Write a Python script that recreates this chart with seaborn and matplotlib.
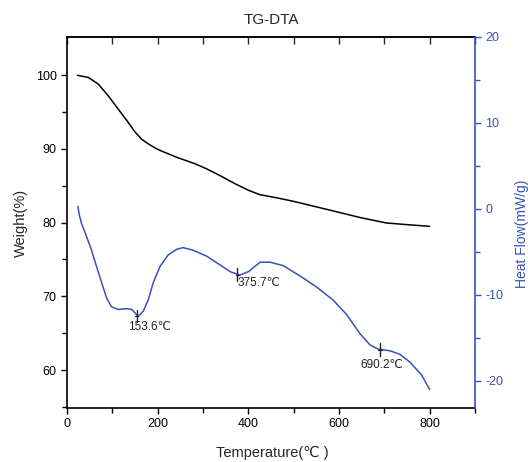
import numpy as np
import pandas as pd
import seaborn as sns
import matplotlib.pyplot as plt
from matplotlib.ticker import MultipleLocator, FixedLocator

# TG curve (weight %)
tg_temp = [23, 47, 69, 91, 113, 135, 150, 165, 179, 195, 209, 245, 282, 308,
           340, 370, 400, 425, 460, 499, 573, 646, 705, 756, 800]
tg_weight = [100.0, 99.7, 98.8, 97.2, 95.4, 93.6, 92.3, 91.3, 90.7, 90.1,
             89.7, 88.8, 88.0, 87.3, 86.3, 85.3, 84.4, 83.8, 83.4, 82.9,
             81.8, 80.7, 79.95, 79.7, 79.5]

# DTA curve (heat flow mW/g)
dta_temp = [24, 26.5, 32, 43, 54, 65, 76.5, 87.5, 98.5, 113, 131, 143, 157,
            168, 179, 190, 205, 223, 242, 256, 278, 308, 337, 360, 381, 400,
            426, 448, 477, 514, 551, 587, 617, 646, 668, 686, 712, 734, 756,
            782, 800]
dta_flow = [0.3, -0.6, -1.7, -3.2, -4.8, -6.7, -8.6, -10.4, -11.4, -11.7,
            -11.6, -11.7, -12.5, -11.9, -10.6, -8.6, -6.7, -5.35, -4.7, -4.5,
            -4.8, -5.5, -6.5, -7.3, -7.7, -7.3, -6.2, -6.2, -6.6, -7.8, -9.1,
            -10.6, -12.3, -14.5, -15.8, -16.3, -16.5, -16.9, -17.8, -19.3,
            -21.0]

peak_temp = [153.6, 375.7, 690.2]
peak_flow = [-12.5, -7.7, -16.4]
peak_labels = ["153.6℃", "375.7℃", "690.2℃"]
label_temp = [134, 377, 648]
label_flow = [-13.75, -8.65, -18.2]

blue = "#3553b8"

sns.set_style("ticks")
plt.rcParams["font.family"] = ["Liberation Sans", "DejaVu Sans"]
plt.rcParams["axes.unicode_minus"] = False

fig, ax = plt.subplots(figsize=(5.28, 4.62), dpi=100)
fig.subplots_adjust(left=0.127, right=0.8996, top=0.92, bottom=0.117)
ax2 = ax.twinx()

tg = pd.DataFrame({"T": tg_temp, "W": tg_weight})
dta = pd.DataFrame({"T": dta_temp, "H": dta_flow})
sns.lineplot(data=tg, x="T", y="W", ax=ax, color="black", lw=1.1)
sns.lineplot(data=dta, x="T", y="H", ax=ax2, color=blue, lw=1.1)

ax.set_xlim(0, 900)
ax.set_ylim(54.85, 105.2)
ax2.set_ylim(-23.15, 20)

ax.xaxis.set_major_locator(MultipleLocator(200))
ax.xaxis.set_minor_locator(MultipleLocator(100))
ax.yaxis.set_major_locator(MultipleLocator(10))
ax.yaxis.set_minor_locator(FixedLocator([55, 65, 75, 85, 95]))
ax2.yaxis.set_major_locator(MultipleLocator(10))
ax2.yaxis.set_minor_locator(MultipleLocator(5))

for s in ["left", "bottom", "top"]:
    ax.spines[s].set_linewidth(1.2)
    ax.spines[s].set_color("black")
for s in ["left", "bottom", "top"]:
    ax2.spines[s].set_visible(False)
ax.spines["right"].set_visible(False)
ax2.spines["right"].set_color(blue)
ax2.spines["right"].set_linewidth(1.2)

ax.tick_params(axis="both", which="both", direction="out", width=1,
               labelsize=9, colors="black")
ax.tick_params(axis="both", which="major", length=4)
ax.tick_params(axis="both", which="minor", length=3.5)
ax2.tick_params(axis="y", which="both", direction="out", width=1,
                colors=blue, labelsize=9)
ax2.tick_params(axis="y", which="major", length=4)
ax2.tick_params(axis="y", which="minor", length=3.5)
ax2.xaxis.set_visible(False)

# top axis: inward ticks every 100, no labels
top = ax.secondary_xaxis("top")
top.xaxis.set_major_locator(MultipleLocator(100))
top.tick_params(axis="x", direction="in", length=5, width=1,
                labeltop=False)
top.spines["top"].set_linewidth(1.2)

ax.set_xlabel("Temperature(℃ )", fontsize=10.5)
ax.xaxis.set_label_coords(0.502, -0.101)
ax.set_ylabel("Weight(%)", fontsize=10.5)
ax.yaxis.set_label_coords(-0.097, 0.5)
ax2.set_ylabel("Heat Flow(mW/g)", fontsize=10, color=blue)
ax2.yaxis.set_label_coords(1.097, 0.47)
ax.set_title("TG-DTA", fontsize=11, pad=9)

# peak markers and labels
for px, py, lx, ly, lab in zip(peak_temp, peak_flow, label_temp,
                               label_flow, peak_labels):
    ax2.plot([px, px], [py - 0.7, py + 0.8], color="#222222", lw=1)
    ax2.plot([px - 4, px + 4], [py, py], color="#222222", lw=0.8)
    ax2.text(lx, ly, lab, fontsize=8.5, color="#222222",
             ha="left", va="center")

fig.savefig("out.png", dpi=100)
